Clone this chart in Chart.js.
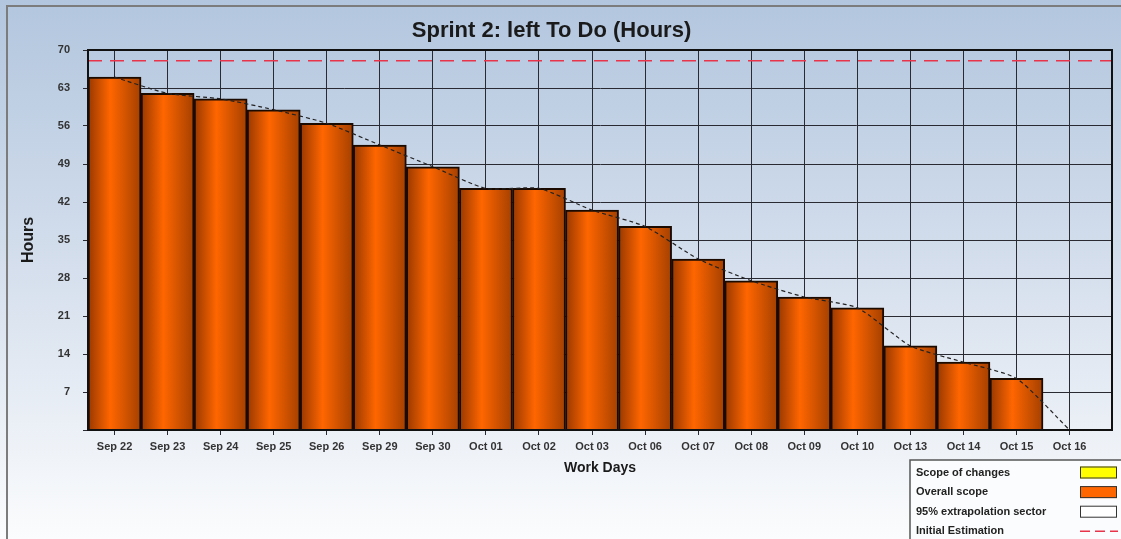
<!DOCTYPE html>
<html>
<head>
<meta charset="utf-8">
<title>Sprint 2: left To Do (Hours)</title>
<script src="https://cdn.jsdelivr.net/npm/chart.js@4/dist/chart.umd.min.js"></script>
<style>
  body { margin: 0; background: #fff; }
  #wrap { width: 1121px; height: 539px; }
</style>
</head>
<body>
<div id="wrap"><canvas id="burndown" width="1121" height="539"></canvas></div>
<script>
// work days of the sprint and hours left at the end of each
var days = ['Sep 22', 'Sep 23', 'Sep 24', 'Sep 25', 'Sep 26', 'Sep 29', 'Sep 30', 'Oct 01', 'Oct 02', 'Oct 03',
            'Oct 06', 'Oct 07', 'Oct 08', 'Oct 09', 'Oct 10', 'Oct 13', 'Oct 14', 'Oct 15', 'Oct 16'];
var hoursLeft = [65, 62, 61, 59, 56.5, 52.5, 48.5, 44.5, 44.5, 40.5,
                 37.5, 31.5, 27.5, 24.5, 22.5, 15.5, 12.5, 9.5, 0];
var initialEstimate = 68;
var yMax = 70;
var yStep = 7;

var legendLabels = ['Scope of changes', 'Overall scope', '95% extrapolation sector', 'Initial Estimation'];
var legendColors = ['#ffff00', '#ff6600', '#ffffff', '#e8334a'];

var xMin = -0.5, xMax = 18.8;

Chart.defaults.font.family = '"Liberation Sans", Arial, sans-serif';
Chart.defaults.color = '#333';

function barFill(context) {
  var chart = context.chart;
  var x = chart.scales.x;
  if (!chart.chartArea || !x || context.dataIndex === undefined) {
    return '#ff6600';
  }
  var c = x.getPixelForValue(context.dataIndex);
  var half = (x.getPixelForValue(1) - x.getPixelForValue(0)) / 2;
  var g = chart.ctx.createLinearGradient(c - half, 0, c + half, 0);
  g.addColorStop(0, '#983800');
  g.addColorStop(0.42, '#ff6600');
  g.addColorStop(1, '#a44000');
  return g;
}

var chrome = {
  id: 'chrome',
  afterLayout: function(chart) {
    // title sits a bit left of the middle
    if (chart.titleBlock) {
      chart.titleBlock.right -= 9;
    }
  },
  beforeDraw: function(chart) {
    var ctx = chart.ctx;
    var g = ctx.createLinearGradient(0, 0, 0, chart.height);
    g.addColorStop(0, '#b2c6de');
    g.addColorStop(0.5, '#d5dfed');
    g.addColorStop(1, '#fbfcfd');
    ctx.save();
    ctx.fillStyle = g;
    ctx.fillRect(0, 0, chart.width, chart.height);
    ctx.strokeStyle = '#7c7c7c';
    ctx.lineWidth = 2;
    ctx.beginPath();
    ctx.moveTo(7, chart.height);
    ctx.lineTo(7, 6);
    ctx.lineTo(chart.width, 6);
    ctx.stroke();
    ctx.restore();
  },
  afterDraw: function(chart) {
    var ctx = chart.ctx;
    var a = chart.chartArea;
    ctx.save();
    ctx.strokeStyle = '#111';
    ctx.lineWidth = 2;
    ctx.strokeRect(a.left, a.top, a.right - a.left, a.bottom - a.top);

    // legend box in the lower right corner
    ctx.fillStyle = '#fbfcfd';
    ctx.fillRect(910, 460, 220, 90);
    ctx.strokeStyle = '#555';
    ctx.lineWidth = 1.5;
    ctx.strokeRect(910, 460, 220, 90);
    ctx.font = 'bold 11px "Liberation Sans", Arial, sans-serif';
    ctx.textBaseline = 'middle';
    for (var i = 0; i < legendLabels.length; i++) {
      var y = 472.5 + i * 19.6;
      ctx.fillStyle = '#222';
      ctx.fillText(legendLabels[i], 916, y);
      if (i === legendLabels.length - 1) {
        ctx.strokeStyle = legendColors[i];
        ctx.lineWidth = 1.5;
        ctx.setLineDash([10, 5]);
        ctx.beginPath();
        ctx.moveTo(1080, y);
        ctx.lineTo(1118, y);
        ctx.stroke();
        ctx.setLineDash([]);
      } else {
        ctx.fillStyle = legendColors[i];
        ctx.fillRect(1080, y - 6, 37, 12);
        ctx.strokeStyle = '#333';
        ctx.lineWidth = 1;
        ctx.strokeRect(1080.5, y - 5.5, 36, 11);
      }
    }
    ctx.restore();
  }
};

var bars = hoursLeft.map(function(v, i) { return {x: i, y: v}; });

var ctx = document.getElementById('burndown');
var burndown = new Chart(ctx, {
  type: 'bar',
  data: {
    datasets: [
      {
        type: 'line',
        label: 'Initial Estimation',
        data: [{x: xMin, y: initialEstimate}, {x: xMax, y: initialEstimate}],
        borderColor: legendColors[3],
        borderWidth: 1.5,
        borderDash: [14, 8],
        pointRadius: 0,
        order: 1
      },
      {
        type: 'line',
        label: '95% extrapolation sector',
        data: bars,
        borderColor: '#222',
        borderWidth: 1.2,
        borderDash: [4, 3],
        pointRadius: 0,
        tension: 0.2,
        order: 1
      },
      {
        label: 'Overall scope',
        data: bars,
        backgroundColor: barFill,
        borderColor: '#1a0a00',
        borderWidth: 2,
        categoryPercentage: 1,
        barPercentage: 1,
        order: 2
      }
    ]
  },
  options: {
    responsive: false,
    devicePixelRatio: 1,
    animation: false,
    layout: { padding: { left: 0, right: 9, top: 0, bottom: 0 } },
    plugins: {
      legend: { display: false },
      tooltip: { enabled: false },
      title: {
        display: true,
        text: 'Sprint 2: left To Do (Hours)',
        color: '#1a1a1a',
        font: { size: 22, weight: 'bold' },
        padding: { top: 18, bottom: 5.6 }
      }
    },
    scales: {
      x: {
        type: 'linear',
        min: xMin,
        max: xMax,
        offset: false,
        afterBuildTicks: function(scale) {
          scale.ticks = days.map(function(d, i) { return {value: i}; });
        },
        afterFit: function(scale) { scale.height = 109; },
        ticks: {
          autoSkip: false,
          maxRotation: 0,
          padding: 5,
          color: '#333',
          font: { size: 11, weight: 'bold' },
          callback: function(v) { return days[v]; }
        },
        grid: { offset: false, color: '#2a2a33', lineWidth: 1, tickLength: 5, drawTicks: true },
        border: { color: '#111', width: 2 },
        title: {
          display: true,
          text: 'Work Days',
          color: '#1a1a1a',
          font: { size: 14, weight: 'bold' },
          padding: { top: 4, bottom: 62 }
        }
      },
      y: {
        min: 0,
        max: yMax,
        afterFit: function(scale) { scale.width = 88; },
        ticks: {
          stepSize: yStep,
          padding: 13,
          color: '#333',
          font: { size: 11, weight: 'bold' },
          callback: function(v) { return v === 0 ? '' : v; }
        },
        grid: { color: '#2a2a33', lineWidth: 1, tickLength: 5, drawTicks: true },
        border: { color: '#111', width: 2 },
        title: {
          display: true,
          text: 'Hours',
          color: '#1a1a1a',
          font: { size: 16, weight: 'bold' },
          padding: { top: 19, bottom: 0 }
        }
      }
    }
  },
  plugins: [chrome]
});
</script>
</body>
</html>
